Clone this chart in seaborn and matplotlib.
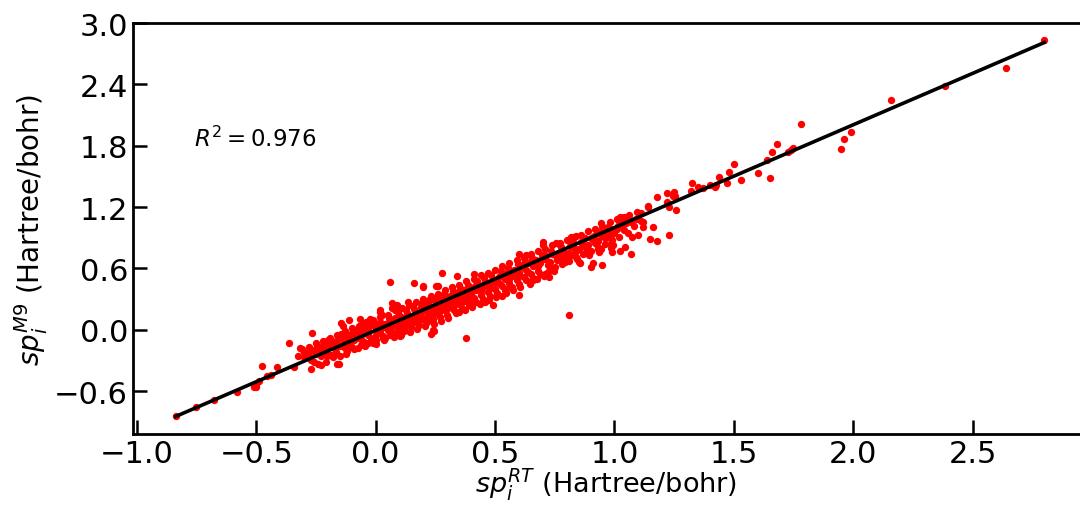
import numpy as np
import matplotlib
matplotlib.use("Agg")
import matplotlib.pyplot as plt
import seaborn as sns

# (sp_RT, sp_M9) pairs, grouped by region
low_tail = [(-0.838, -0.846), (-0.754, -0.757), (-0.677, -0.69), (-0.58, -0.61),
            (-0.51, -0.56), (-0.50, -0.555), (-0.50, -0.54), (-0.488, -0.50),
            (-0.477, -0.354), (-0.457, -0.45), (-0.44, -0.44), (-0.415, -0.364),
            (-0.365, -0.13), (-0.343, -0.367), (-0.325, -0.255), (-0.318, -0.18),
            (-0.31, -0.19), (-0.30, -0.22), (-0.297, -0.256), (-0.29, -0.24),
            (-0.276, -0.27)]

core = [(-0.30, -0.27), (-0.28, -0.22), (-0.27, -0.29), (-0.26, -0.20), (-0.25, -0.24),
        (-0.24, -0.18), (-0.23, -0.26), (-0.22, -0.15), (-0.21, -0.21), (-0.20, -0.17),
        (-0.19, -0.25), (-0.18, -0.12), (-0.17, -0.19), (-0.16, -0.10), (-0.15, -0.16),
        (-0.14, -0.08), (-0.13, -0.18), (-0.12, -0.05), (-0.11, -0.12), (-0.10, -0.03),
        (-0.09, -0.10), (-0.08, 0.00), (-0.07, -0.08), (-0.06, -0.02), (-0.05, -0.12),
        (-0.04, 0.03), (-0.03, -0.05), (-0.02, 0.05), (-0.01, -0.08), (0.00, 0.02),
        (0.01, -0.03), (0.02, 0.08), (0.03, -0.06), (0.04, 0.06), (0.05, 0.00),
        (0.06, 0.10), (0.07, -0.02), (0.08, 0.12), (0.09, 0.03), (0.10, 0.14),
        (0.11, 0.01), (0.12, 0.09), (0.13, 0.16), (0.14, 0.05), (0.15, 0.12),
        (0.16, 0.20), (0.17, 0.08), (0.18, 0.15), (0.19, 0.22), (0.20, 0.11),
        (0.21, 0.18), (0.22, 0.25), (0.23, 0.14), (0.24, 0.21), (0.25, 0.28),
        (0.26, 0.16), (0.27, 0.24), (0.28, 0.30), (0.29, 0.19), (0.30, 0.27),
        (0.31, 0.33), (0.32, 0.22), (0.33, 0.30), (0.34, 0.36), (0.35, 0.25),
        (0.36, 0.33), (0.37, 0.39), (0.38, 0.28), (0.39, 0.36), (0.40, 0.41),
        (0.41, 0.31), (0.42, 0.39), (0.43, 0.45), (0.44, 0.34), (0.45, 0.42),
        (0.46, 0.48), (0.47, 0.37), (0.48, 0.45), (0.49, 0.50), (0.50, 0.40),
        (0.51, 0.47), (0.52, 0.53), (0.53, 0.43), (0.54, 0.50), (0.55, 0.56),
        (0.56, 0.46), (0.57, 0.53), (0.58, 0.59), (0.59, 0.49), (0.60, 0.56),
        (0.61, 0.62), (0.62, 0.52), (0.63, 0.59), (0.64, 0.65), (0.65, 0.55),
        (0.66, 0.62), (0.67, 0.68), (0.68, 0.58), (0.69, 0.65), (0.70, 0.71),
        (0.72, 0.63), (0.74, 0.74), (0.76, 0.68), (0.78, 0.78), (0.80, 0.72),
        (0.82, 0.82), (0.84, 0.77), (0.86, 0.86), (0.88, 0.80), (0.90, 0.90),
        (0.92, 0.85), (0.94, 0.94), (0.96, 0.90), (0.98, 0.99), (1.00, 0.95),
        (1.02, 1.03), (1.04, 0.98), (1.06, 1.06), (1.08, 1.02), (1.10, 1.09),
        (1.12, 1.05),
        (-0.22, -0.19), (-0.17, -0.14), (-0.13, -0.11), (-0.12, -0.15), (-0.08, -0.06),
        (-0.06, -0.09), (-0.05, 0.02), (-0.03, 0.00), (-0.02, -0.10), (0.00, -0.05),
        (0.01, 0.06), (0.02, -0.01), (0.03, 0.03), (0.04, -0.08), (0.05, 0.07),
        (0.06, 0.02), (0.07, 0.05), (0.08, -0.04), (0.09, 0.09), (0.10, 0.05),
        (0.11, 0.10), (0.12, 0.02), (0.13, 0.08), (0.14, 0.13), (0.15, 0.06),
        (0.16, 0.11), (0.17, 0.17), (0.18, 0.10), (0.19, 0.14), (0.20, 0.19),
        (0.21, 0.12), (0.22, 0.17), (0.23, 0.22), (0.24, 0.15), (0.25, 0.20),
        (0.26, 0.26), (0.27, 0.18), (0.28, 0.23), (0.29, 0.27), (0.30, 0.20),
        (0.31, 0.26), (0.32, 0.31), (0.33, 0.24), (0.34, 0.29), (0.35, 0.34),
        (0.36, 0.27), (0.37, 0.32), (0.38, 0.37), (0.39, 0.30), (0.40, 0.35),
        (0.42, 0.42), (0.44, 0.38), (0.46, 0.44), (0.48, 0.41), (0.50, 0.47),
        (0.52, 0.45), (0.54, 0.53), (0.56, 0.50), (0.58, 0.56), (0.60, 0.53),
        (0.62, 0.60), (0.64, 0.57), (0.66, 0.65), (0.68, 0.62), (0.71, 0.69),
        (0.73, 0.66), (0.75, 0.73), (0.77, 0.71), (0.79, 0.76), (0.81, 0.75),
        (0.83, 0.80), (0.85, 0.79), (0.87, 0.84), (0.89, 0.83), (0.91, 0.88),
        (0.93, 0.87), (0.95, 0.92), (0.97, 0.93), (0.99, 0.96), (1.01, 0.99),
        (1.03, 1.01), (1.05, 1.04), (1.07, 1.05), (1.09, 1.08)]

# upper and lower edges of the dense band, plus fill along the line
band_upper = [(-0.28, -0.17), (-0.25, -0.13), (-0.22, -0.11), (-0.19, -0.08), (-0.16, -0.05),
              (-0.13, -0.01), (-0.10, 0.02), (-0.07, 0.04), (-0.04, 0.08), (-0.01, 0.10),
              (0.02, 0.13), (0.05, 0.15), (0.08, 0.19), (0.11, 0.21), (0.14, 0.24),
              (0.17, 0.27), (0.20, 0.30), (0.23, 0.33), (0.26, 0.35), (0.29, 0.39),
              (0.32, 0.42), (0.35, 0.44), (0.38, 0.48), (0.41, 0.50), (0.44, 0.54),
              (0.47, 0.56), (0.50, 0.59), (0.53, 0.62), (0.56, 0.65), (0.59, 0.68),
              (0.62, 0.70), (0.65, 0.74), (0.68, 0.77), (0.71, 0.79), (0.74, 0.83),
              (0.77, 0.85), (0.80, 0.88), (0.83, 0.91), (0.86, 0.93), (0.89, 0.97),
              (0.92, 0.99), (0.95, 1.02), (0.98, 1.05), (1.01, 1.08), (1.04, 1.10)]

band_lower = [(-0.27, -0.38), (-0.24, -0.33), (-0.21, -0.31), (-0.18, -0.27), (-0.15, -0.26),
              (-0.12, -0.21), (-0.09, -0.19), (-0.06, -0.15), (-0.03, -0.13), (0.00, -0.10),
              (0.03, -0.08), (0.06, -0.05), (0.09, -0.03), (0.12, -0.01), (0.15, 0.03),
              (0.18, 0.05), (0.21, 0.07), (0.24, 0.11), (0.27, 0.13), (0.30, 0.15),
              (0.33, 0.19), (0.36, 0.21), (0.39, 0.24), (0.42, 0.27), (0.45, 0.30),
              (0.48, 0.33), (0.51, 0.36), (0.54, 0.39), (0.57, 0.42), (0.60, 0.45),
              (0.63, 0.49), (0.66, 0.51), (0.69, 0.55), (0.72, 0.57), (0.75, 0.61),
              (0.78, 0.64), (0.81, 0.67), (0.84, 0.71), (0.87, 0.74), (0.90, 0.77),
              (0.93, 0.81), (0.96, 0.84), (0.99, 0.88), (1.02, 0.91)]

band_mid = [(-0.285, -0.26), (-0.235, -0.22), (-0.185, -0.16), (-0.135, -0.14), (-0.085, -0.07),
            (-0.035, -0.02), (0.015, 0.00), (0.065, 0.08), (0.115, 0.12), (0.165, 0.15),
            (0.215, 0.23), (0.265, 0.25), (0.315, 0.32), (0.365, 0.35), (0.415, 0.43),
            (0.465, 0.45), (0.515, 0.52), (0.565, 0.55), (0.615, 0.63), (0.665, 0.65),
            (0.715, 0.72), (0.765, 0.75), (0.815, 0.82), (0.865, 0.85), (0.915, 0.92),
            (0.965, 0.95), (1.015, 1.02), (1.065, 1.07)]

band_fill = [(-0.26, -0.31), (-0.245, -0.16), (-0.205, -0.26), (-0.195, -0.12), (-0.165, -0.22),
             (-0.145, -0.04), (-0.125, -0.24), (-0.105, -0.07), (-0.075, -0.18), (-0.055, 0.06),
             (-0.045, -0.16), (-0.025, 0.11), (-0.005, -0.12), (0.025, 0.15), (0.035, -0.10),
             (0.055, 0.12), (0.075, -0.07), (0.095, 0.17), (0.105, -0.05), (0.125, 0.19),
             (0.145, -0.02), (0.155, 0.23), (0.175, 0.01), (0.195, 0.26), (0.205, 0.04),
             (0.225, 0.29), (0.245, 0.06), (0.255, 0.32), (0.275, 0.09), (0.285, 0.35),
             (0.305, 0.12), (0.325, 0.38), (0.335, 0.16), (0.355, 0.41), (0.375, 0.19),
             (0.385, 0.44), (0.405, 0.22), (0.425, 0.48), (0.435, 0.25), (0.455, 0.51),
             (0.475, 0.29), (0.485, 0.54), (0.505, 0.32), (0.525, 0.58), (0.545, 0.36),
             (0.555, 0.60), (0.575, 0.39), (0.595, 0.64), (0.605, 0.42), (0.625, 0.67),
             (0.645, 0.45), (0.655, 0.70), (0.675, 0.50), (0.695, 0.73), (0.705, 0.53),
             (0.735, 0.77), (0.745, 0.58), (0.775, 0.81), (0.795, 0.66), (0.825, 0.86),
             (0.845, 0.69), (0.875, 0.90), (0.895, 0.73), (0.925, 0.95), (0.945, 0.79),
             (0.975, 1.01), (0.985, 0.84), (1.035, 1.06), (1.055, 0.95)]

mid_outliers = [(-0.265, -0.03), (-0.23, -0.34), (-0.20, -0.10), (-0.18, -0.25), (-0.16, -0.33),
                (-0.155, -0.33), (-0.146, 0.07), (-0.137, 0.04), (-0.113, 0.10), (-0.10, -0.17),
                (-0.067, 0.105), (-0.028, 0.09), (0.0, -0.14), (-0.01, -0.13), (0.017, 0.17),
                (0.02, 0.19), (0.06, 0.47), (0.07, 0.26), (0.07, 0.21), (0.089, 0.24),
                (0.10, -0.06), (0.087, -0.04), (0.135, 0.27), (0.16, 0.46), (0.20, 0.43),
                (0.20, 0.42), (0.233, -0.04), (0.24, 0.0), (0.243, -0.01), (0.237, 0.09),
                (0.254, 0.43), (0.26, 0.43), (0.277, 0.56), (0.34, 0.525), (0.35, 0.17),
                (0.38, -0.08), (0.41, 0.55), (0.41, 0.27), (0.456, 0.27), (0.49, 0.24),
                (0.53, 0.33), (0.547, 0.40), (0.60, 0.34), (0.60, 0.74), (0.63, 0.73),
                (0.66, 0.49), (0.70, 0.86), (0.70, 0.83), (0.71, 0.55), (0.725, 0.515),
                (0.735, 0.60), (0.756, 0.85), (0.77, 0.83), (0.78, 0.695), (0.78, 0.73),
                (0.81, 0.15), (0.82, 0.91), (0.82, 0.735), (0.84, 0.92), (0.85, 0.66),
                (0.855, 0.65), (0.893, 0.77), (0.90, 0.61), (0.91, 0.656), (0.933, 0.79),
                (0.935, 0.76), (0.944, 1.04), (0.95, 0.975), (0.95, 0.636), (0.986, 0.89),
                (0.986, 0.80), (0.99, 0.975), (0.99, 0.76), (0.996, 0.83), (1.024, 0.77),
                (1.025, 1.105), (1.028, 1.07), (1.046, 0.81), (1.063, 1.12), (1.07, 0.74),
                (1.074, 0.905), (1.095, 1.155), (1.10, 0.925), (1.11, 1.14), (1.11, 1.06),
                (1.12, 1.01)]

high_tail = [(1.14, 1.21), (1.14, 1.20), (1.15, 0.885), (1.16, 1.01), (1.18, 0.87),
             (1.18, 1.30), (1.22, 1.34), (1.22, 1.25), (1.23, 1.20), (1.23, 0.93),
             (1.245, 1.31), (1.25, 1.35), (1.255, 1.31), (1.26, 1.17), (1.32, 1.36),
             (1.325, 1.44), (1.35, 1.40), (1.37, 1.39), (1.40, 1.42), (1.42, 1.40),
             (1.425, 1.42), (1.44, 1.49), (1.47, 1.44), (1.48, 1.54), (1.50, 1.62),
             (1.53, 1.47), (1.60, 1.53), (1.64, 1.66), (1.65, 1.48), (1.66, 1.74),
             (1.68, 1.82), (1.725, 1.74), (1.74, 1.76), (1.75, 1.78), (1.78, 2.01),
             (1.95, 1.77), (1.96, 1.87), (1.99, 1.93), (2.16, 2.25), (2.385, 2.38),
             (2.64, 2.56), (2.80, 2.83)]

# fitted line
slope = 1.005
intercept = -0.005
r2 = 0.976

pts = np.array(low_tail + core + band_upper + band_lower + band_mid + band_fill
               + mid_outliers + high_tail)
sp_rt, sp_m9 = pts[:, 0], pts[:, 1]

fig = plt.figure(figsize=(10.8, 5.06), dpi=100)
ax = fig.add_axes([0.123, 0.140, 0.877, 0.8125])

sns.scatterplot(x=sp_rt, y=sp_m9, color="red", s=28, linewidth=0, ax=ax)
xl = np.array([sp_rt.min(), sp_rt.max()])
sns.lineplot(x=xl, y=slope * xl + intercept, color="black", linewidth=2.6, ax=ax)

ax.set_xlim(-1.017, 2.95)
ax.set_ylim(-1.02, 3.0)
ax.set_xticks([-1.0, -0.5, 0.0, 0.5, 1.0, 1.5, 2.0, 2.5])
ax.set_yticks([-0.6, 0.0, 0.6, 1.2, 1.8, 2.4, 3.0])
ax.set_yticklabels(["\u22120.6", "0.0", "0.6", "1.2", "1.8", "2.4", "3.0"])

ax.tick_params(direction="in", length=10, width=1.8, labelsize=22)
for side in ["left", "bottom", "top"]:
    ax.spines[side].set_linewidth(2)
ax.spines["right"].set_visible(False)

ax.set_xlabel(r"$sp_i^{RT}$ (Hartree/bohr)", fontsize=19.5, labelpad=-2)
ax.set_ylabel(r"$sp_i^{M9}$ (Hartree/bohr)", fontsize=20, labelpad=3)
ax.text(-0.76, 1.8, r"$R^2 = %.3f$" % r2, fontsize=16.5)

fig.savefig("out.png", dpi=100)
